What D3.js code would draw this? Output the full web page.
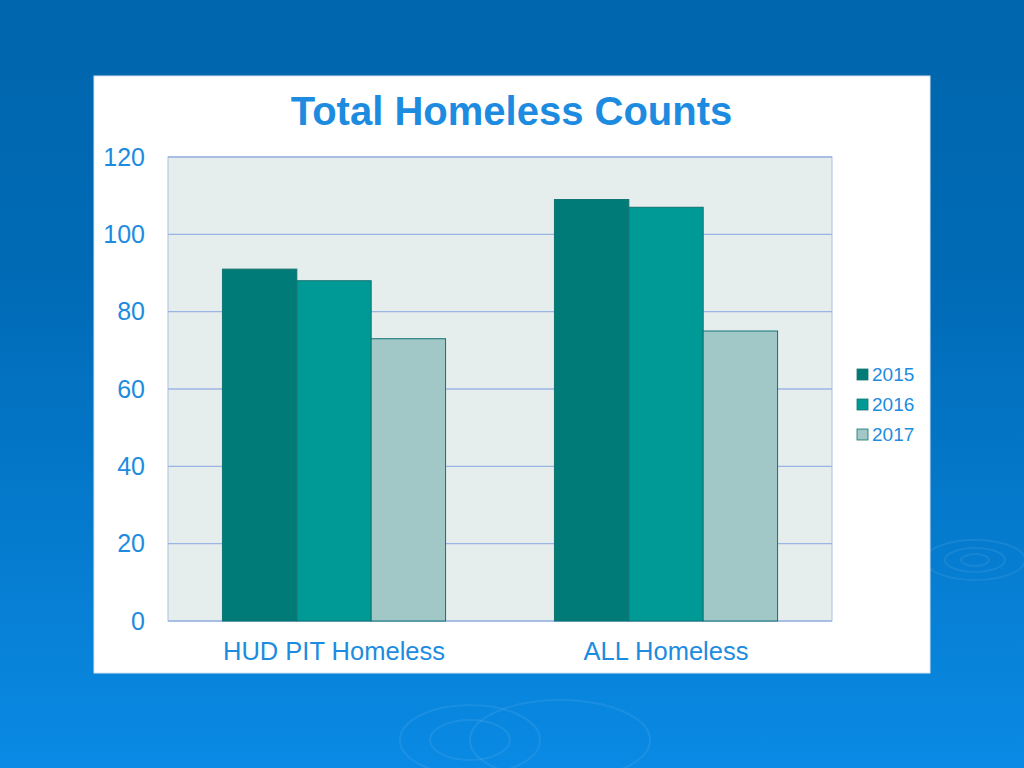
<!DOCTYPE html>
<html><head><meta charset="utf-8">
<script src="https://cdn.jsdelivr.net/npm/d3@7"></script>
<style>html,body{margin:0;padding:0;overflow:hidden;background:#0068b0}</style>
</head><body>
<script>
const categories = ["HUD PIT Homeless", "ALL Homeless"];
const years = ["2015", "2016", "2017"];
const values2015 = [91, 109];
const values2016 = [88, 107];
const values2017 = [73, 75];
const yTicks = [0, 20, 40, 60, 80, 100, 120];
const title = "Total Homeless Counts";

const series = [values2015, values2016, values2017];
const colors = ["#007b78", "#009a96", "#a2c7c7"];
const textColor = "#1d8ce0";
const font = "Liberation Sans, Arial, sans-serif";

const W = 1024, H = 768;
const svg = d3.select("body").append("svg").attr("width", W).attr("height", H);
const defs = svg.append("defs");
const g = defs.append("linearGradient").attr("id","bg").attr("x1",0).attr("y1",0).attr("x2",0).attr("y2",1);
g.append("stop").attr("offset","0%").attr("stop-color","#0066ad");
g.append("stop").attr("offset","35%").attr("stop-color","#006ab5");
g.append("stop").attr("offset","100%").attr("stop-color","#0a8ae4");
svg.append("rect").attr("width",W).attr("height",H).attr("fill","url(#bg)");

// faint ripples
const rip = svg.append("g").attr("fill","none").attr("stroke","#ffffff").attr("stroke-opacity",0.07);
[[975,560,14,6],[975,560,30,12],[975,560,50,20],[470,740,40,20],[470,740,70,35],[560,740,90,40]].forEach(d=>{
  rip.append("ellipse").attr("cx",d[0]).attr("cy",d[1]).attr("rx",d[2]).attr("ry",d[3]).attr("stroke-width",2);
});

// white panel
svg.append("rect").attr("x",94).attr("y",76).attr("width",836).attr("height",597)
  .attr("fill","#ffffff").attr("stroke","#d8e4f0").attr("stroke-width",1);

const plot = {left:168, right:832, top:157, bottom:621};

const x0 = d3.scaleBand().domain(categories).range([plot.left, plot.right])
  .paddingInner(0.328).paddingOuter(0.164);
const x1 = d3.scaleBand().domain(years).range([0, x0.bandwidth()]);
const y = d3.scaleLinear().domain([0,120]).range([plot.bottom, plot.top]);

svg.append("rect").attr("x",plot.left).attr("y",plot.top)
  .attr("width",plot.right-plot.left).attr("height",plot.bottom-plot.top)
  .attr("fill","#e6eded").attr("stroke","#a9c0e3").attr("stroke-width",1);

svg.append("g").selectAll("line").data(yTicks).join("line")
  .attr("x1",plot.left).attr("x2",plot.right)
  .attr("y1",d=>y(d)).attr("y2",d=>y(d))
  .attr("stroke","#9bb5e2").attr("stroke-width",1.3);

// y axis labels
const yAxis = d3.axisLeft(y).tickValues(yTicks).tickSize(0).tickPadding(23);
const ya = svg.append("g").attr("transform",`translate(${plot.left},0)`).call(yAxis);
ya.select(".domain").remove();
ya.selectAll("text").attr("fill",textColor).attr("font-size",25).attr("font-family",font);

// x axis labels
const xAxis = d3.axisBottom(x0).tickSize(0).tickPadding(21);
const xa = svg.append("g").attr("transform",`translate(0,${plot.bottom})`).call(xAxis);
xa.select(".domain").remove();
xa.selectAll("text").attr("fill",textColor).attr("font-size",25.5).attr("font-family",font);

// bars
const grp = svg.append("g").selectAll("g").data(categories).join("g")
  .attr("transform",d=>`translate(${x0(d)},0)`);
grp.selectAll("rect").data((c,ci)=>years.map((yr,si)=>({yr,si,v:series[si][ci]}))).join("rect")
  .attr("x",d=>x1(d.yr)).attr("width",x1.bandwidth())
  .attr("y",d=>y(d.v)).attr("height",d=>y(0)-y(d.v))
  .attr("fill",d=>colors[d.si]).attr("stroke","#0f7472").attr("stroke-width",1);

// title
svg.append("text").attr("x",511.5).attr("y",125).attr("text-anchor","middle")
  .attr("font-family",font).attr("font-weight","bold").attr("font-size",40)
  .attr("fill",textColor).text(title);

// legend
const lg = svg.append("g").selectAll("g").data(years).join("g")
  .attr("transform",(d,i)=>`translate(857,${369+i*30})`);
lg.append("rect").attr("width",11).attr("height",11).attr("y",0)
  .attr("fill",(d,i)=>colors[i]).attr("stroke","#0f7472").attr("stroke-width",0.8);
lg.append("text").attr("x",15).attr("y",12).attr("font-size",19).attr("font-family",font)
  .attr("fill",textColor).text(d=>d);
</script>
</body></html>
